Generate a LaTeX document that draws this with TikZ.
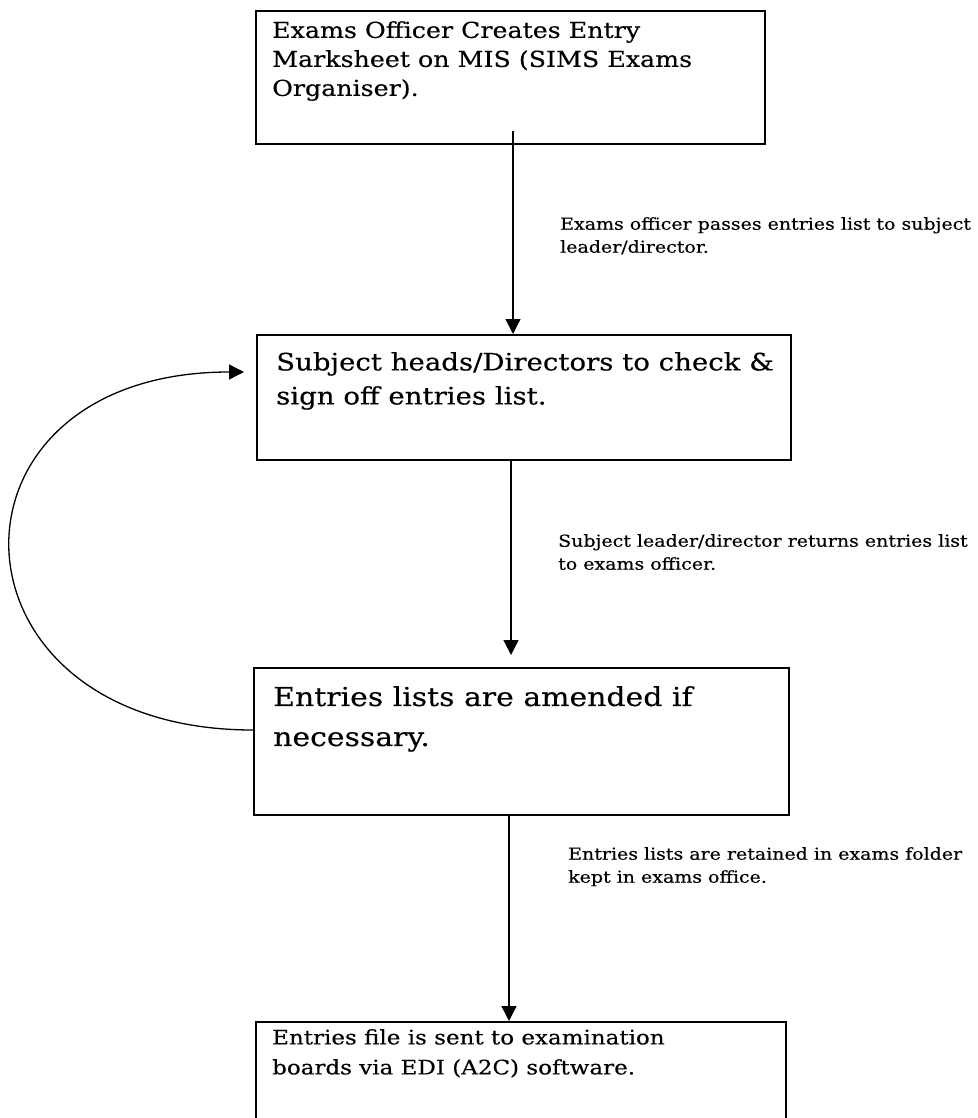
\documentclass[tikz,border=0pt]{standalone}
\usepackage{fontspec}
\setmainfont{DejaVu Serif}[FakeStretch=1.15,FakeBold=0.3]
\usetikzlibrary{arrows.meta}
\begin{document}
\begin{tikzpicture}[x=1pt,y=-1pt,
        box/.style={draw,line width=1.8pt,anchor=north west,inner sep=0pt},
        boxtext/.style={anchor=north west,align=left,inner sep=0pt},
        note/.style={anchor=north west,align=left,inner sep=0pt,font=\fontsize{16.5}{23}\selectfont},
        arr/.style={line width=1.3pt,-{Triangle[width=15pt,length=15pt]}}]

        \useasboundingbox (0,0) rectangle (977,1118);

        %riquadri
        \node[box,minimum width=509pt,minimum height=133pt] (officer) at (255,10) {};
        \node[box,minimum width=534pt,minimum height=125pt] (heads) at (256,334) {};
        \node[box,minimum width=535pt,minimum height=147pt] (amend) at (253,667) {};
        \node[box,minimum width=530pt,minimum height=130pt] (boards) at (255,1021) {};

        %testi nei riquadri
        \node[boxtext,font=\fontsize{22}{29}\selectfont] (officertxt) at ([shift={(17,11)}]officer.north west)
            {Exams Officer Creates Entry\\Marksheet on MIS (SIMS Exams\\Organiser).};
        \node[boxtext,font=\fontsize{24}{34}\selectfont] (headstxt) at ([shift={(20,18)}]heads.north west)
            {Subject heads/Directors to check \&\\sign off entries list.};
        \node[boxtext,font=\fontsize{26}{40}\selectfont] (amendtxt) at ([shift={(20,19)}]amend.north west)
            {Entries lists are amended if\\necessary.};
        \node[boxtext,font=\fontsize{20}{30}\selectfont] (boardstxt) at ([shift={(17,8)}]boards.north west)
            {Entries file is sent to examination\\boards via EDI (A2C) software.};

        %freccie
        \coordinate (a1) at (513,131);
        \draw[arr] (a1) -- (a1 |- heads.north);
        \coordinate (a2) at (511,459);
        \coordinate (a2end) at (511,655);
        \draw[arr] (a2) -- (a2end);
        \coordinate (a3) at (509,814);
        \draw[arr] (a3) -- (a3 |- boards.north);

        %ritorno
        \coordinate (loopout) at (253,730);
        \coordinate (loopin) at (244,372);
        \draw[arr] (loopout) .. controls (-64,730) and (-73,372) .. (loopin);

        %label frecce
        \node[note] (passes) at (560,217) {Exams officer passes entries list to subject\\leader/director.};
        \node[note] (returns) at (558,534) {Subject leader/director returns entries list\\to exams officer.};
        \node[note] (kept) at (568,847) {Entries lists are retained in exams folder\\kept in exams office.};
\end{tikzpicture}
\end{document}
